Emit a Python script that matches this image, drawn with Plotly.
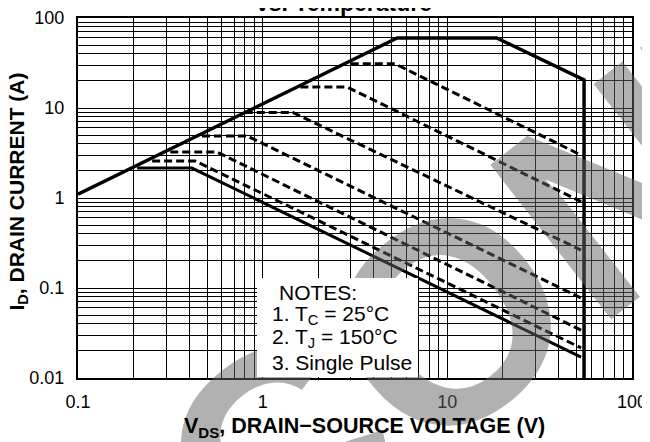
import plotly.graph_objects as go

# ---- data ----
outer_v = [0.1, 5.35, 18.5, 55, 55]
outer_i = [1.1, 60, 60, 20.5, 0.01]

pulse_a_v = [3.0, 5.2, 53]
pulse_a_i = [31, 31, 3.0]
pulse_b_v = [1.6, 2.87, 53]
pulse_b_i = [17.1, 17.1, 0.91]
pulse_c_v = [0.80, 1.46, 53]
pulse_c_i = [8.9, 8.9, 0.264]
pulse_d_v = [0.469, 0.822, 53]
pulse_d_i = [4.9, 4.9, 0.0774]
pulse_e_v = [0.316, 0.565, 53]
pulse_e_i = [3.24, 3.24, 0.0341]
pulse_f_v = [0.252, 0.431, 53]
pulse_f_i = [2.58, 2.58, 0.0216]
dc_v = [0.209, 0.414, 53]
dc_i = [2.15, 2.15, 0.0171]

x_tickvals = [0.1, 1, 10, 100]
x_ticktext = ["0.1", "1", "10", "100"]
y_tickvals = [0.01, 0.1, 1, 10, 100]
y_ticktext = ["0.01", "0.1", "1", "10", "100"]

notes = ["NOTES:", "1. T<sub>C</sub> = 25°C", "2. T<sub>J</sub> = 150°C", "3. Single Pulse"]

FONT = "Liberation Sans, Arial, Helvetica, sans-serif"

# the page body has an 8px margin; the figure is sized to fill the rest
OFF = 8
W, H = 650 - OFF, 442 - OFF
# plot area geometry in page pixels
L, R, T, B = 77.5, 632.5, 18, 378


def px(x):
    return (x - L) / (R - L)


def py(y):
    return (B - y) / (B - T)


fig = go.Figure()

dash = "8px,4px"
for xs, ys in [(pulse_a_v, pulse_a_i), (pulse_b_v, pulse_b_i), (pulse_c_v, pulse_c_i),
               (pulse_d_v, pulse_d_i), (pulse_e_v, pulse_e_i), (pulse_f_v, pulse_f_i)]:
    fig.add_trace(go.Scatter(x=xs, y=ys, mode="lines",
                             line=dict(color="black", width=3, dash=dash)))
fig.add_trace(go.Scatter(x=dc_v, y=dc_i, mode="lines", line=dict(color="black", width=3)))
fig.add_trace(go.Scatter(x=outer_v, y=outer_i, mode="lines", line=dict(color="black", width=3.5)))

minor_x = [k * 10 ** d for d in (-1, 0, 1) for k in range(2, 10)]
minor_y = [k * 10 ** d for d in (-2, -1, 0, 1) for k in range(2, 10)]

fig.update_xaxes(type="log", range=[-1, 2], tickvals=x_tickvals, ticktext=x_ticktext,
                 showgrid=True, gridcolor="black", gridwidth=1, automargin=False,
                 minor=dict(tickvals=minor_x, showgrid=True, gridcolor="black", gridwidth=1),
                 showline=True, linecolor="black", linewidth=2, mirror=True,
                 ticks="", ticklabelstandoff=6,
                 tickfont=dict(family=FONT, size=18, color="black"), zeroline=False)
fig.update_yaxes(type="log", range=[-2, 2], tickvals=y_tickvals, ticktext=y_ticktext,
                 showgrid=True, gridcolor="black", gridwidth=1, automargin=False,
                 minor=dict(tickvals=minor_y, showgrid=True, gridcolor="black", gridwidth=1),
                 showline=True, linecolor="black", linewidth=2, mirror=True,
                 ticks="", ticklabelstandoff=8,
                 tickfont=dict(family=FONT, size=18, color="black"), zeroline=False)

ann = []
# watermark
ann.append(dict(text="<b>DISCONTINUED</b>", xref="paper", yref="paper",
                x=px(679), y=py(141), xanchor="center", yanchor="middle",
                showarrow=False, textangle=-38,
                font=dict(family=FONT, size=285, color="rgba(100,100,100,0.5)")))
# notes box (white) drawn over the watermark
ann.append(dict(text=" ", xref="paper", yref="paper", x=px(337.5), y=py(327.5),
                xanchor="center", yanchor="middle", width=161, height=99,
                bgcolor="white", borderpad=0, borderwidth=0, showarrow=False))
note_pos = [(277, 292), (270, 315), (270, 338), (270, 362)]
for t, (nx, ny) in zip(notes, note_pos):
    ann.append(dict(text=t, xref="paper", yref="paper", x=px(nx), y=py(ny),
                    xanchor="left", yanchor="middle", showarrow=False,
                    font=dict(family=FONT, size=21, color="black")))
# axis titles
ann.append(dict(text="<b>V<sub>DS</sub>, DRAIN−SOURCE VOLTAGE (V)</b>", xref="paper", yref="paper",
                x=px(365), y=py(427), xanchor="center", yanchor="middle", showarrow=False,
                font=dict(family=FONT, size=21.5, color="black")))
ann.append(dict(text="<b>I<sub>D</sub>, DRAIN CURRENT (A)</b>", xref="paper", yref="paper",
                x=px(17), y=py(192), xanchor="center", yanchor="middle", showarrow=False,
                textangle=-90, font=dict(family=FONT, size=21, color="black")))
# cropped figure title
ann.append(dict(text="<b>vs. Temperature</b>", xref="paper", yref="paper",
                x=px(344), y=py(3), xanchor="center", yanchor="middle", showarrow=False,
                font=dict(family=FONT, size=23, color="black")))

fig.update_layout(width=W, height=H,
                  margin=dict(l=L - OFF, r=650 - R, t=T - OFF, b=442 - B, autoexpand=False),
                  paper_bgcolor="white", plot_bgcolor="white", showlegend=False,
                  annotations=ann)

fig.write_html("out.html")
